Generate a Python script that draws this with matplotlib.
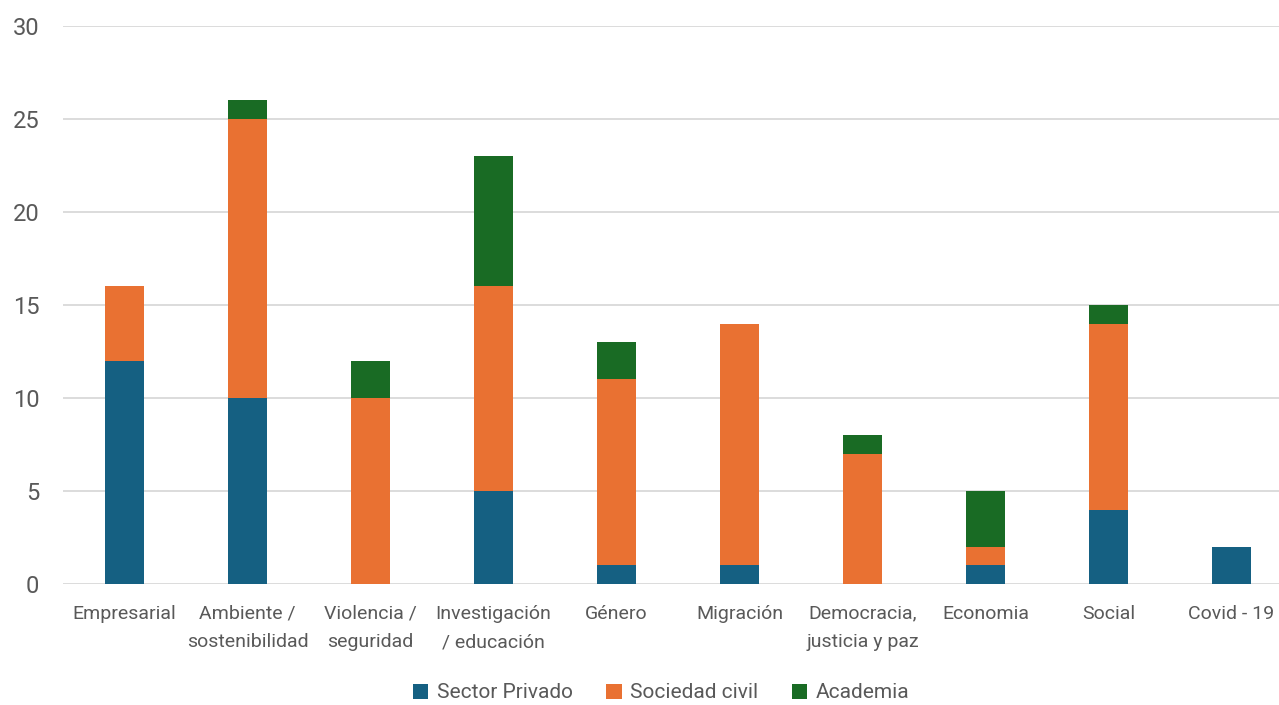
import matplotlib
matplotlib.use("Agg")
import matplotlib.pyplot as plt
import numpy as np

categories = ["Empresarial", "Ambiente /\nsostenibilidad", "Violencia /\nseguridad",
              "Investigación\n/ educación", "Género", "Migración",
              "Democracia,\njusticia y paz", "Economia", "Social", "Covid - 19"]
sector_privado = [12, 10, 0, 5, 1, 1, 0, 1, 4, 2]
sociedad_civil = [4, 15, 10, 11, 10, 13, 7, 1, 10, 0]
academia = [0, 1, 2, 7, 2, 0, 1, 3, 1, 0]
series_names = ["Sector Privado", "Sociedad civil", "Academia"]
colors = ["#156082", "#E97132", "#196B24"]

plt.rcParams["font.family"] = ["Roboto", "DejaVu Sans"]
text_color = "#595959"

fig = plt.figure(figsize=(12.79, 7.05), dpi=100)
ax = fig.add_axes([63 / 1279, 1 - 584 / 705, 1230 / 1279, 558 / 705])

x = np.arange(len(categories))
bottom = np.zeros(len(categories))
for vals, name, c in zip([sector_privado, sociedad_civil, academia], series_names, colors):
    ax.bar(x, vals, width=0.32, bottom=bottom, color=c, label=name, zorder=3)
    bottom += np.array(vals)

ax.set_xlim(-0.5, len(categories) - 0.5)
ax.set_ylim(0, 30)
ax.set_yticks(range(0, 31, 5))
ax.yaxis.grid(True, color="#D9D9D9", linewidth=1.3, zorder=0)
for s in ax.spines.values():
    s.set_visible(False)
ax.tick_params(length=0, colors=text_color)
ax.tick_params(axis="y", labelsize=17, pad=17)
ax.tick_params(axis="x", labelsize=14, pad=15)
ax.set_xticks(x)
ax.set_xticklabels(categories, linespacing=1.75)

fig.legend(loc="center", bbox_to_anchor=(661 / 1279, 1 - 693 / 705), ncol=3,
           frameon=False, fontsize=15, labelcolor=text_color, handlelength=0.75,
           handleheight=0.75, handletextpad=0.4, columnspacing=1.6)

fig.savefig("out.png", dpi=100)
